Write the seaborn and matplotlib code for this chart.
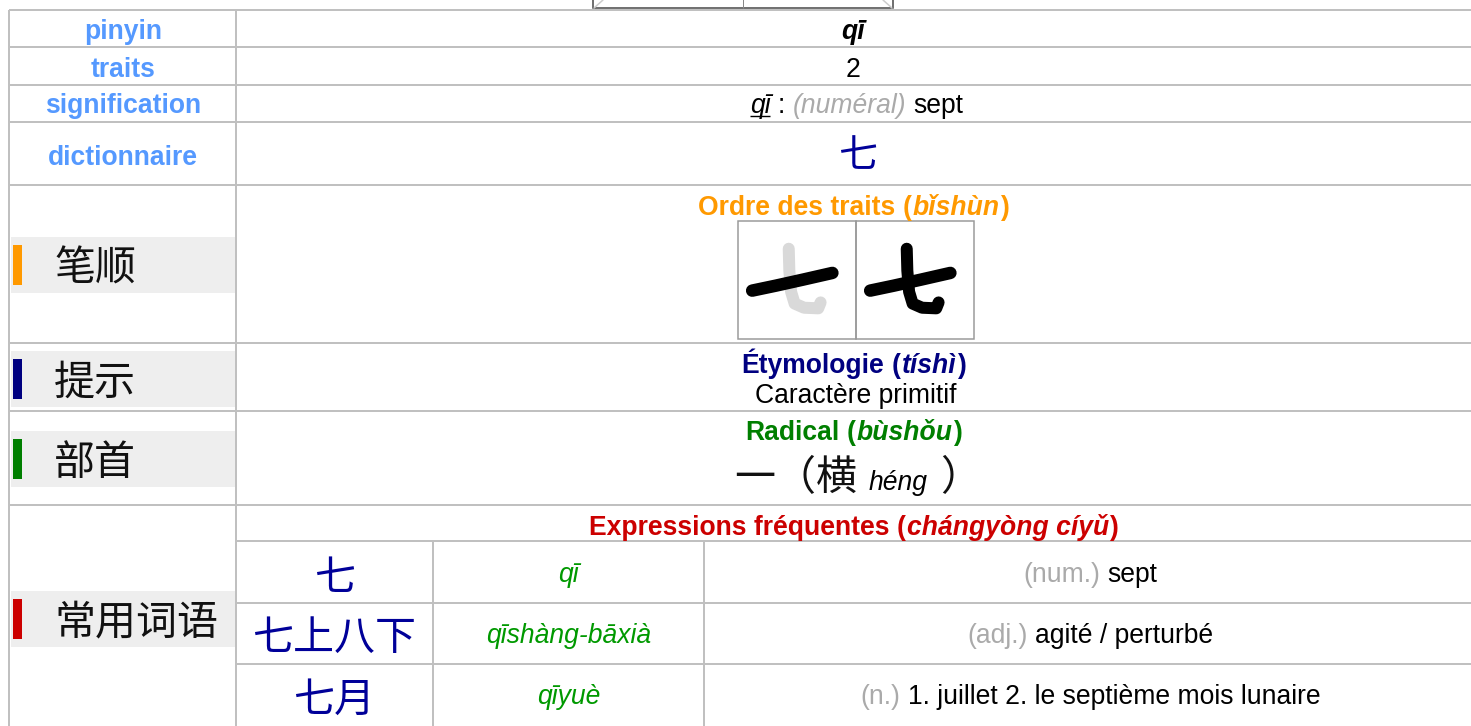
import matplotlib
matplotlib.use("Agg")
import matplotlib.pyplot as plt
import seaborn as sns
from matplotlib.patches import Rectangle

# ---------------- data ----------------
header_labels = ["pinyin", "traits", "signification", "dictionnaire"]
char_pinyin = "qī"
char_strokes = "2"
char_hanzi = "七"
meaning_pos = "(numéral)"
meaning_text = "sept"

section_labels = ["笔顺", "提示", "部首", "常用词语"]
section_titles = ["Ordre des traits", "Étymologie", "Radical", "Expressions fréquentes"]
section_pinyin = ["bǐshùn", "tíshì", "bùshǒu", "chángyòng cíyǔ"]
section_colors = ["#ff9900", "#000080", "#007f00", "#cc0000"]

etymology_text = "Caractère primitif"
radical_hanzi = "一（横"
radical_pinyin = "héng"

expr_hanzi = ["七", "七上八下", "七月"]
expr_pinyin = ["qī", "qīshàng-bāxià", "qīyuè"]
expr_pos = ["(num.)", "(adj.)", "(n.)"]
expr_meaning = ["sept", "agité / perturbé", "1. juillet 2. le septième mois lunaire"]

# ---------------- style ----------------
sns.set_theme(style="white")
LATIN = ["Liberation Sans", "DejaVu Sans"]
CJKF = ["Noto Sans CJK SC", "DejaVu Sans"]
plt.rcParams["font.family"] = LATIN

W, H = 1471, 726
PX = 72 / 100.0
FS = 26.5 * PX
FS_CJK = 41 * PX
HEAD_BLUE = "#5599ff"
BORDER = "#c0c0c0"
BAND = "#eeeeee"
HANZI_BLUE = "#000099"
PY_GREEN = "#009900"
GRAY = "#aaaaaa"

fig = plt.figure(figsize=(W / 100, H / 100), dpi=100)
ax = fig.add_axes([0, 0, 1, 1])
ax.set_xlim(0, W)
ax.set_ylim(H, 0)
ax.axis("off")
renderer = fig.canvas.get_renderer()
LW = 2 * PX


def hline(y, x0, x1, c=BORDER, lw=LW):
    ax.plot([x0, x1], [y, y], color=c, lw=lw, solid_capstyle="butt")


def vline(x, y0, y1, c=BORDER, lw=LW):
    ax.plot([x, x], [y0, y1], color=c, lw=lw, solid_capstyle="butt")


def rich(xc, yb, pieces):
    placed = []
    x = 0.0
    for s, kw, gap in pieces:
        t = ax.text(0, yb, s, ha="left", va="baseline", **kw)
        w = t.get_window_extent(renderer).width
        x += gap
        placed.append((t, x, w))
        x += w
    x0 = xc - x / 2
    out = []
    for t, px, w in placed:
        t.set_x(x0 + px)
        out.append((x0 + px, w))
    return out


SP = 0.278 * 26.5  # width of a space in px
LEFT_X, MID_X, RIGHT_X = 9, 236, W
VAL_C = (MID_X + RIGHT_X) / 2
HEAD_C = 123

# ---------------- partial image at top ----------------
ax.add_patch(Rectangle((593, -10), 300, 18, fill=False, ec="#444444", lw=1.5 * PX))
vline(743, -10, 8, c="#888888", lw=1 * PX)
ax.plot([594, 603], [8, 0], color="#cccccc", lw=1.5 * PX)
ax.plot([892, 883], [8, 0], color="#cccccc", lw=1.5 * PX)

# ---------------- grid ----------------
for y in [10, 47, 85, 122, 185, 343, 411, 505]:
    hline(y, LEFT_X, RIGHT_X)
for y in [541, 603, 664]:
    hline(y, MID_X, RIGHT_X)
vline(LEFT_X, 10, H)
vline(MID_X, 10, H)
vline(433, 541, H)
vline(704, 541, H)

# ---------------- header rows ----------------
head_base = [39, 77, 113, 165]
for lab, yb in zip(header_labels, head_base):
    ax.text(HEAD_C, yb, lab, ha="center", va="baseline", fontsize=FS,
            fontweight="bold", color=HEAD_BLUE)

ax.text(VAL_C, head_base[0], char_pinyin, ha="center", va="baseline", fontsize=FS,
        fontweight="bold", fontstyle="italic", color="black")
ax.text(VAL_C, head_base[1], char_strokes, ha="center", va="baseline", fontsize=FS,
        color="black")
pos = rich(VAL_C + 3, head_base[2], [
    (char_pinyin, dict(fontsize=FS, fontstyle="italic", color="black"), 0),
    (":", dict(fontsize=FS, color="black"), SP),
    (meaning_pos, dict(fontsize=FS, fontstyle="italic", color=GRAY), SP),
    (meaning_text, dict(fontsize=FS, color="black"), SP),
])
ux, uw = pos[0]
hline(head_base[2] + 3, ux, ux + uw, c="black", lw=1.4 * PX)
ax.text(VAL_C + 4, 156, char_hanzi, ha="center", va="center", fontsize=FS_CJK * 0.95,
        family=CJKF, color=HANZI_BLUE)

# ---------------- left section labels ----------------
band_centers = [265, 379, 459, 619]
for lab, yc, col in zip(section_labels, band_centers, section_colors):
    ax.add_patch(Rectangle((11, yc - 28), 224, 56, fc=BAND, ec="none", zorder=0))
    ax.add_patch(Rectangle((13, yc - 20), 9.5, 40, fc=col, ec="none", zorder=1))
    ax.text(54, yc + 4, lab, ha="left", va="center", fontsize=FS_CJK, family=CJKF,
            color="#111111")

# ---------------- section titles ----------------
title_base = [215, 373, 440, 535]
for ttl, py, col, yb in zip(section_titles, section_pinyin, section_colors, title_base):
    rich(VAL_C, yb, [
        (ttl, dict(fontsize=FS, fontweight="bold", color=col), 0),
        ("(", dict(fontsize=FS, fontweight="bold", color=col), SP),
        (py, dict(fontsize=FS, fontweight="bold", fontstyle="italic", color=col), 1),
        (")", dict(fontsize=FS, fontweight="bold", color=col), 0.5),
    ])

# stroke-order images
BOX = 118
boxes_x = [738, 856]
BOX_Y = 221
stroke_h = [(0.12, 0.59), (0.32, 0.548), (0.55, 0.497), (0.80, 0.44)]
stroke_v = [(0.43, 0.235), (0.435, 0.42), (0.45, 0.60), (0.48, 0.70), (0.56, 0.735),
            (0.68, 0.74), (0.70, 0.69)]
for i, bx in enumerate(boxes_x):
    ax.add_patch(Rectangle((bx, BOX_Y), BOX, BOX, fill=False, ec="#999999", lw=1.5 * PX))
    vcol = "#d9d9d9" if i == 0 else "black"
    ax.plot([bx + p[0] * BOX for p in stroke_v], [BOX_Y + p[1] * BOX for p in stroke_v],
            color=vcol, lw=12 * PX, solid_capstyle="round", solid_joinstyle="round")
    ax.plot([bx + p[0] * BOX for p in stroke_h], [BOX_Y + p[1] * BOX for p in stroke_h],
            color="black", lw=12.5 * PX, solid_capstyle="round", solid_joinstyle="round")

# etymology
ax.text(VAL_C + 2, 403, etymology_text, ha="center", va="baseline", fontsize=FS, color="black")

# radical
rich(VAL_C + 4, 490, [
    (radical_hanzi, dict(fontsize=FS_CJK, family=CJKF, color="#111111"), 0),
    (radical_pinyin, dict(fontsize=FS, fontstyle="italic", color="black"), 12),
    ("）", dict(fontsize=FS_CJK, family=CJKF, color="#111111"), 12),
])

# ---------------- expressions ----------------
expr_base = [582, 643, 704]
expr_center = [579, 638, 700]
for hz, py, ps, mn, yb, yc in zip(expr_hanzi, expr_pinyin, expr_pos, expr_meaning,
                                  expr_base, expr_center):
    ax.text((MID_X + 433) / 2, yc, hz, ha="center", va="center", fontsize=FS_CJK,
            family=CJKF, color=HANZI_BLUE)
    ax.text((433 + 704) / 2, yb, py, ha="center", va="baseline", fontsize=FS,
            fontstyle="italic", color=PY_GREEN)
    rich((704 + RIGHT_X) / 2 + 3, yb, [
        (ps, dict(fontsize=FS, color=GRAY), 0),
        (mn, dict(fontsize=FS, color="black"), SP),
    ])

fig.savefig("out.png", dpi=100, facecolor="white")
